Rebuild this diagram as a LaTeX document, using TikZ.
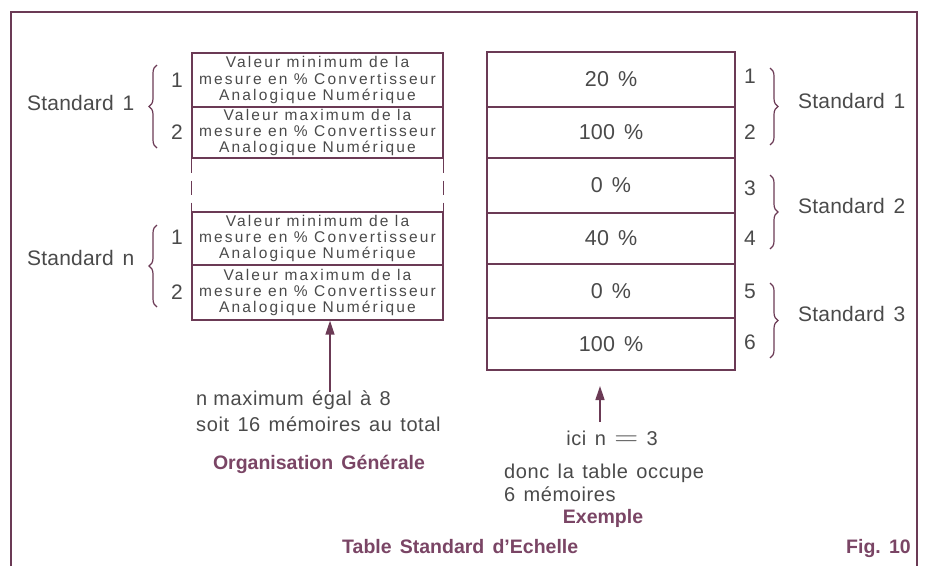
\documentclass[tikz,border=0pt]{standalone}
\usepackage{fontspec}
\setmainfont{Liberation Sans}
\newfontfamily\boxfont[LetterSpace=14]{Liberation Sans}
\newfontfamily\bodyfont[LetterSpace=3]{Liberation Sans}
\newfontfamily\labfont[LetterSpace=1]{Liberation Sans}
\newfontfamily\ttlfont[LetterSpace=0]{Liberation Sans}
\usetikzlibrary{decorations.pathreplacing,arrows.meta}
\definecolor{ink}{HTML}{6B3A55}
\definecolor{txt}{HTML}{4A4A4A}
\definecolor{ttl}{HTML}{7A4565}
\newcommand\wgap{\hspace{0.42em}}
\begin{document}
\begin{tikzpicture}[x=1pt,y=-1pt,
 frameline/.style={draw=ink,line width=1.3pt},
 lcell/.style={draw=ink,line width=1.3pt,minimum width=251pt,inner sep=0pt,text=txt,font=\boxfont\fontsize{15.5}{16.2}\selectfont,align=center},
 rcell/.style={draw=ink,line width=1.3pt,minimum width=248pt,inner sep=0pt,text=txt,font=\labfont\fontsize{21.5}{24}\selectfont},
 lab/.style={text=txt,font=\labfont\fontsize{21}{24}\selectfont,inner sep=0pt},
 body/.style={text=txt,font=\bodyfont\fontsize{20}{27}\selectfont,inner sep=0pt},
 ttltext/.style={text=ttl,font=\ttlfont\bfseries\fontsize{19.5}{23}\selectfont,inner sep=0pt},
 bracel/.style={draw=ink,line width=1.2pt,decorate,decoration={brace,amplitude=8pt}},
 arr/.style={draw=ink,line width=1.5pt,-{Triangle[length=14pt,width=9pt]}},
 dashedline/.style={draw=ink,line width=1.3pt,dash pattern=on 14pt off 8pt}
]
\useasboundingbox (0,0) rectangle (925,566);
% frame
\coordinate (f1) at (11,566);
\coordinate (f2) at (11,12);
\coordinate (f3) at (917,12);
\coordinate (f4) at (917,566);
\draw[frameline] (f1) -- (f2) -- (f3) -- (f4);

% left column
\node[lcell,minimum height=54pt] (l1) at (317.5,80) {Valeur minimum de la\\mesure en \% Convertisseur\\Analogique Numérique};
\node[lcell,minimum height=51pt] (l2) at (317.5,132.5) {Valeur maximum de la\\mesure en \% Convertisseur\\Analogique Numérique};
\node[lcell,minimum height=53pt] (l3) at (317.5,238.5) {Valeur minimum de la\\mesure en \% Convertisseur\\Analogique Numérique};
\node[lcell,minimum height=55pt] (l4) at (317.5,292.5) {Valeur maximum de la\\mesure en \% Convertisseur\\Analogique Numérique};
\draw[dashedline] (l2.south west) -- (l3.north west);
\draw[dashedline] (l2.south east) -- (l3.north east);

\node[lab,anchor=mid] (ln1) at (177,85) {1};
\node[lab,anchor=mid] (ln2) at (177,137) {2};
\node[lab,anchor=mid] (ln3) at (177,242) {1};
\node[lab,anchor=mid] (ln4) at (177,297) {2};
\coordinate (lb1a) at (157,148); \coordinate (lb1b) at (157,65);
\coordinate (lb2a) at (157,307); \coordinate (lb2b) at (157,225);
\draw[bracel] (lb1a) -- (lb1b);
\draw[bracel] (lb2a) -- (lb2b);
\node[lab,anchor=mid west] (ls1) at (27,108) {Standard\wgap 1};
\node[lab,anchor=mid west] (lsn) at (27,263) {Standard\wgap n};

% right column
\node[rcell,minimum height=55pt] (r1) at (611,79.5) {20\wgap\%};
\node[rcell,minimum height=51pt] (r2) at (611,132.5) {100\wgap\%};
\node[rcell,minimum height=55pt] (r3) at (611,185.5) {0\wgap\%};
\node[rcell,minimum height=51pt] (r4) at (611,238.5) {40\wgap\%};
\node[rcell,minimum height=54pt] (r5) at (611,291) {0\wgap\%};
\node[rcell,minimum height=52pt] (r6) at (611,344) {100\wgap\%};

\node[lab,anchor=mid] (rn1) at (750,81) {1};
\node[lab,anchor=mid] (rn2) at (750,137) {2};
\node[lab,anchor=mid] (rn3) at (750,193) {3};
\node[lab,anchor=mid] (rn4) at (750,243) {4};
\node[lab,anchor=mid] (rn5) at (750,296) {5};
\node[lab,anchor=mid] (rn6) at (750,347) {6};
\coordinate (rb1a) at (770,68); \coordinate (rb1b) at (770,145);
\coordinate (rb2a) at (770,175); \coordinate (rb2b) at (770,249);
\coordinate (rb3a) at (770,283); \coordinate (rb3b) at (770,358);
\draw[bracel] (rb1a) -- (rb1b);
\draw[bracel] (rb2a) -- (rb2b);
\draw[bracel] (rb3a) -- (rb3b);
\node[lab,anchor=mid west] (rs1) at (798,106) {Standard\wgap 1};
\node[lab,anchor=mid west] (rs2) at (798,211) {Standard\wgap 2};
\node[lab,anchor=mid west] (rs3) at (798,319) {Standard\wgap 3};

% arrows
\coordinate (la) at (330,392);
\draw[arr] (la) -- (la |- l4.south);
\coordinate (ra) at (600,422);
\coordinate (rt) at (600,386);
\draw[arr] (ra) -- (rt);

% texts
\node[body,anchor=mid west] (t1) at (196,403) {n maximum\wgap égal\wgap à\wgap 8};
\node[body,anchor=mid west] (t2) at (196,429) {soit\wgap 16\wgap mémoires\wgap au\wgap total};
\node[ttltext,anchor=mid] (t3) at (319,467) {Organisation\wgap Générale};
\node[body,anchor=mid] (t4) at (612,443) {ici\wgap n\wgap\scalebox{1.6}[1.3]{$=$}\wgap3};
\node[body,anchor=mid west] (t5) at (504,476) {donc\wgap la\wgap table\wgap occupe};
\node[body,anchor=mid west] (t6) at (504,499) {6\wgap mémoires};
\node[ttltext,anchor=mid] (t7) at (603,521) {Exemple};
\node[ttltext,anchor=mid west] (t8) at (342,551) {Table\wgap Standard\wgap d’Echelle};
\node[ttltext,anchor=mid west] (t9) at (846,551) {Fig.\wgap 10};
\end{tikzpicture}
\end{document}
